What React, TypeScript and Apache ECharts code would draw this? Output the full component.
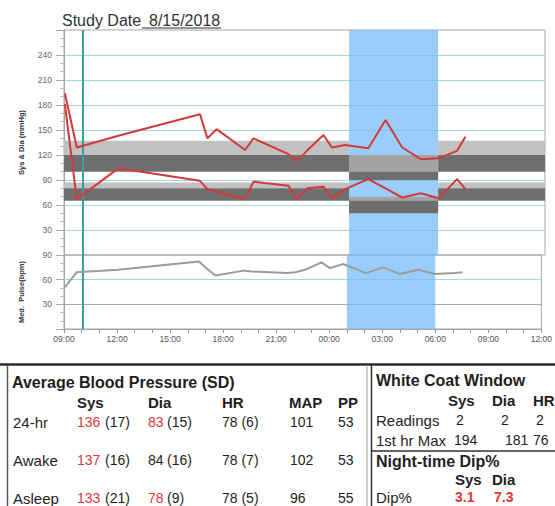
import React, { useEffect, useRef } from "react";
import * as echarts from "echarts";

// ---------- data ----------
const STUDY_LABEL = "Study Date";
const STUDY_DATE = "8/15/2018";

const X_TICK_LABELS = ["09:00", "12:00", "15:00", "18:00", "21:00", "00:00", "03:00", "06:00", "09:00", "12:00"];
const X_STEP_HOURS = 3;
const AXIS_START_HOUR = 9;

const BP_MIN = 0;
const BP_MAX = 270;
const BP_STEP = 30;
const PULSE_MIN = 0;
const PULSE_MAX = 90;
const PULSE_STEP = 30;

const READING_TIMES = ["09:03", "09:43", "12:03", "16:38", "17:03", "17:34", "19:10", "19:38", "21:36", "22:05", "22:38", "23:34", "00:02", "00:47", "02:05", "03:03", "03:59", "05:02", "06:01", "07:04", "07:32"];
const SYS = [194, 129, 143, 169, 140, 151, 126, 140, 121, 113, 125, 144, 129, 132, 128, 162, 129, 115, 116, 125, 142];
const DIA = [181, 67, 104, 89, 79, 76, 67, 88, 83, 67, 80, 82, 68, 79, 91, 80, 69, 74, 68, 91, 79];
const PULSE = [51, 69, 72, 82, 74, 65, 71, 70, 68, 69, 72, 81, 74, 79, 68, 75, 67, 72, 67, 68, 69];

const NIGHT_PERIOD = ["01:00", "06:00"];
const WHITE_COAT_END = "10:05";

// reference bands [low, high]
const AWAKE_SYS_UPPER = [120, 137];
const AWAKE_SYS_NORMAL = [100, 120];
const AWAKE_DIA_UPPER = [80, 87];
const AWAKE_DIA_NORMAL = [65, 80];
const NIGHT_SYS_UPPER = [100, 120];
const NIGHT_SYS_NORMAL = [90, 100];
const NIGHT_DIA_UPPER = [65, 70];
const NIGHT_DIA_NORMAL = [50, 65];

const PULSE_REF_GRAY = 30;
const PULSE_REF_TEAL = 60;

// table data
const BP_TITLE = "Average Blood Pressure (SD)";
const BP_HEADERS = ["Sys", "Dia", "HR", "MAP", "PP"];
const BP_ROW_LABELS = ["24-hr", "Awake", "Asleep"];
const BP_SYS = [136, 137, 133];
const BP_SYS_SD = [17, 16, 21];
const BP_SYS_HIGH = [true, true, true];
const BP_DIA = [83, 84, 78];
const BP_DIA_SD = [15, 16, 9];
const BP_DIA_HIGH = [true, false, true];
const BP_HR = [78, 78, 78];
const BP_HR_SD = [6, 7, 5];
const BP_MAP = [101, 102, 96];
const BP_PP = [53, 53, 55];

const WC_TITLE = "White Coat Window";
const WC_HEADERS = ["Sys", "Dia", "HR"];
const WC_READINGS_LABEL = "Readings";
const WC_READINGS = [2, 2, 2];
const WC_MAX_LABEL = "1st hr Max";
const WC_MAX = [194, 181, 76];
const DIP_TITLE = "Night-time Dip%";
const DIP_HEADERS = ["Sys", "Dia"];
const DIP_LABEL = "Dip%";
const DIP_VALUES = ["3.1", "7.3"];

// ---------- helpers ----------
const toHours = (t: string) => {
  const [h, m] = t.split(":").map(Number);
  return ((h - AXIS_START_HOUR + 24) % 24) + m / 60;
};
const X_MAX = (X_TICK_LABELS.length - 1) * X_STEP_HOURS;

const FONT = '"Liberation Sans", Arial, Helvetica, sans-serif';
const RED = "#e0373b";
const INK = "#1e1e1e";
const LINE_RED = "#d13a3a";
const BAND_LIGHT = "#c1c1c1";
const BAND_MID = "#a3a3a3";
const BAND_DARK = "#6e6e6e";
const BLUE = "rgba(112,184,248,0.7)";
const TEAL_GRID = "#a3d8d8";
const BORDER = "#a6a6a6";

const NUM = 14; // numeric font size in the tables
const LAB = 15; // row label font size
const HEAD = 15; // column header font size
const TITLE = 16; // section title font size

function txt(x: number, y: number, text: string, o: any = {}) {
  return {
    type: "text",
    x,
    y,
    silent: true,
    style: {
      text,
      fill: o.fill || INK,
      fontFamily: FONT,
      fontSize: o.size || NUM,
      fontWeight: o.bold ? "bold" : "normal",
      align: o.align || "left",
      verticalAlign: "middle",
    },
  };
}
function ln(x1: number, y1: number, x2: number, y2: number, stroke: string, w: number) {
  return { type: "line", silent: true, shape: { x1, y1, x2, y2 }, style: { stroke, lineWidth: w } };
}

function band(x0: number, x1: number, r: number[], color: string) {
  return [
    { xAxis: x0, yAxis: r[0], itemStyle: { color, opacity: 1 } },
    { xAxis: x1, yAxis: r[1] },
  ];
}

function buildOption() {
  const n0 = toHours(NIGHT_PERIOD[0]);
  const n1 = toHours(NIGHT_PERIOD[1]);
  const wc = toHours(WHITE_COAT_END);
  const awakeSpans = [
    [0, n0],
    [n1, X_MAX],
  ];
  const bandData: any[] = [];
  awakeSpans.forEach(([a, b]) => {
    bandData.push(band(a, b, AWAKE_SYS_UPPER, BAND_LIGHT));
    bandData.push(band(a, b, AWAKE_SYS_NORMAL, BAND_DARK));
    bandData.push(band(a, b, AWAKE_DIA_UPPER, BAND_LIGHT));
    bandData.push(band(a, b, AWAKE_DIA_NORMAL, BAND_DARK));
  });
  bandData.push(band(n0, n1, NIGHT_SYS_UPPER, BAND_MID));
  bandData.push(band(n0, n1, NIGHT_SYS_NORMAL, BAND_DARK));
  bandData.push(band(n0, n1, NIGHT_DIA_UPPER, BAND_MID));
  bandData.push(band(n0, n1, NIGHT_DIA_NORMAL, BAND_DARK));

  const pts = (vals: number[]) => READING_TIMES.map((t, i) => [toHours(t), vals[i]]);

  const blueArea = {
    silent: true,
    z: 1,
    label: { show: false },
    itemStyle: { color: BLUE, opacity: 1 },
    data: [[{ xAxis: n0 }, { xAxis: n1 }]],
  };
  const wcLine = {
    silent: true,
    z: 1.8,
    symbol: ["none", "none"],
    label: { show: false },
    lineStyle: { color: "#3d9c9e", width: 2, type: "solid" },
    data: [{ xAxis: wc }],
  };

  // table graphics
  const g: any[] = [];
  // title
  g.push(txt(62, 20.5, STUDY_LABEL, { size: 16, fill: "#333" }));
  g.push(txt(149, 20.5, STUDY_DATE, { size: 16, fill: "#333" }));
  g.push(ln(142, 28, 221, 28, "#333", 1.2));

  // table frame
  g.push(ln(0, 364.5, 555, 364.5, "#2a2a2a", 2.5));
  g.push(ln(7.5, 365, 7.5, 506, "#555", 1.5));
  g.push(ln(367, 365, 367, 506, "#9a9a9a", 1));
  g.push(ln(371.5, 365, 371.5, 506, "#333", 1.5));
  g.push(ln(371.5, 451, 555, 451, "#333", 1.5));

  // left table
  const colX = [77, 148, 222, 289, 338];
  g.push(txt(12, 382, BP_TITLE, { size: TITLE, bold: true }));
  BP_HEADERS.forEach((h, i) => g.push(txt(colX[i], 402, h, { size: HEAD, bold: true })));
  const rowY = [422, 460, 498];
  BP_ROW_LABELS.forEach((lab, i) => {
    const y = rowY[i];
    g.push(txt(13, y, lab, { size: LAB }));
    g.push(txt(77, y, String(BP_SYS[i]), { fill: BP_SYS_HIGH[i] ? RED : INK }));
    g.push(txt(105, y, `(${BP_SYS_SD[i]})`));
    g.push(txt(148, y, String(BP_DIA[i]), { fill: BP_DIA_HIGH[i] ? RED : INK }));
    g.push(txt(167, y, `(${BP_DIA_SD[i]})`));
    g.push(txt(222, y, `${BP_HR[i]} (${BP_HR_SD[i]})`));
    g.push(txt(290, y, String(BP_MAP[i])));
    g.push(txt(338, y, String(BP_PP[i])));
  });

  // right table
  g.push(txt(376, 380, WC_TITLE, { size: TITLE, bold: true }));
  const wcHeadX = [448, 492, 533];
  WC_HEADERS.forEach((h, i) => g.push(txt(wcHeadX[i], 400, h, { size: HEAD, bold: true })));
  g.push(txt(376, 420, WC_READINGS_LABEL, { size: LAB }));
  const wcReadX = [456, 501, 536];
  WC_READINGS.forEach((v, i) => g.push(txt(wcReadX[i], 420, String(v))));
  g.push(txt(376, 440, WC_MAX_LABEL, { size: LAB }));
  const wcMaxX = [454, 505, 533];
  WC_MAX.forEach((v, i) => g.push(txt(wcMaxX[i], 440, String(v))));
  g.push(txt(376, 461, DIP_TITLE, { size: TITLE, bold: true }));
  const dipX = [455, 492];
  DIP_HEADERS.forEach((h, i) => g.push(txt(dipX[i], 479, h, { size: HEAD, bold: true })));
  g.push(txt(376, 497, DIP_LABEL, { size: LAB }));
  const dipValX = [455, 494];
  DIP_VALUES.forEach((v, i) => g.push(txt(dipValX[i], 497, v, { fill: RED, bold: true })));

  const yLabel = (hide: number[]) => (v: number) => (hide.includes(v) ? "" : String(v));

  return {
    animation: false,
    backgroundColor: "#ffffff",
    textStyle: { fontFamily: FONT },
    grid: [
      { left: 64, top: 30, width: 481, height: 225, show: true, borderColor: BORDER, borderWidth: 1, backgroundColor: "transparent" },
      { left: 64, top: 255, width: 481, height: 74, show: true, borderColor: BORDER, borderWidth: 1, backgroundColor: "transparent" },
    ],
    xAxis: [
      {
        type: "value",
        gridIndex: 0,
        min: 0,
        max: X_MAX,
        interval: X_STEP_HOURS,
        axisLabel: { show: false },
        axisTick: { show: false },
        axisLine: { show: false },
        splitLine: { show: false },
      },
      {
        type: "value",
        gridIndex: 1,
        min: 0,
        max: X_MAX,
        interval: X_STEP_HOURS,
        axisLine: { show: true, lineStyle: { color: BORDER } },
        axisTick: { show: true, length: 4, lineStyle: { color: "#999" } },
        minorTick: { show: true, splitNumber: 3, length: 4, lineStyle: { color: "#999" } },
        axisLabel: {
          fontSize: 8.5,
          color: "#555",
          margin: 5,
          formatter: (v: number) => X_TICK_LABELS[Math.round(v / X_STEP_HOURS)] ?? "",
        },
        splitLine: { show: false },
      },
    ],
    yAxis: [
      {
        type: "value",
        gridIndex: 0,
        min: BP_MIN,
        max: BP_MAX,
        interval: BP_STEP,
        name: "Sys & Dia (mmHg)",
        nameLocation: "middle",
        nameGap: 39,
        nameTextStyle: { fontSize: 7.5, fontWeight: "bold", color: "#333" },
        axisLine: { show: true, lineStyle: { color: BORDER } },
        axisTick: { show: true, length: 8, lineStyle: { color: "#aaa" } },
        minorTick: { show: true, splitNumber: 3, length: 4, lineStyle: { color: "#bbb" } },
        axisLabel: { fontSize: 8.5, color: "#666", margin: 12, formatter: yLabel([BP_MIN, BP_MAX]) },
        splitLine: { show: true, showMinLine: false, showMaxLine: false, lineStyle: { color: TEAL_GRID, width: 1 } },
      },
      {
        type: "value",
        gridIndex: 1,
        min: PULSE_MIN,
        max: PULSE_MAX,
        interval: PULSE_STEP,
        name: "Med.  Pulse(bpm)",
        nameLocation: "middle",
        nameGap: 39,
        nameTextStyle: { fontSize: 7.5, fontWeight: "bold", color: "#333" },
        axisLine: { show: true, lineStyle: { color: BORDER } },
        axisTick: { show: true, length: 8, lineStyle: { color: "#aaa" } },
        minorTick: { show: true, splitNumber: 3, length: 4, lineStyle: { color: "#bbb" } },
        axisLabel: { fontSize: 8.5, color: "#666", margin: 12, formatter: yLabel([PULSE_MIN]) },
        splitLine: { show: false },
      },
    ],
    series: [
      {
        name: "pulseRefs",
        type: "line",
        xAxisIndex: 1,
        yAxisIndex: 1,
        data: [],
        markLine: {
          silent: true,
          z: 0.5,
          symbol: ["none", "none"],
          label: { show: false },
          data: [
            { yAxis: PULSE_REF_GRAY, lineStyle: { color: "#a8a8a8", width: 1.2, type: "solid" } },
            { yAxis: PULSE_REF_TEAL, lineStyle: { color: TEAL_GRID, width: 1, type: "solid" } },
          ],
        },
      },
      { name: "nightUpper", type: "line", xAxisIndex: 0, yAxisIndex: 0, data: [], markArea: blueArea },
      { name: "nightLower", type: "line", xAxisIndex: 1, yAxisIndex: 1, data: [], markArea: blueArea, markLine: wcLine },
      {
        name: "bands",
        type: "line",
        xAxisIndex: 0,
        yAxisIndex: 0,
        data: [],
        markArea: { silent: true, z: 1.5, label: { show: false }, data: bandData },
        markLine: wcLine,
      },
      {
        name: "Sys",
        type: "line",
        xAxisIndex: 0,
        yAxisIndex: 0,
        z: 3,
        symbol: "none",
        lineStyle: { color: LINE_RED, width: 2 },
        data: pts(SYS),
      },
      {
        name: "Dia",
        type: "line",
        xAxisIndex: 0,
        yAxisIndex: 0,
        z: 3,
        symbol: "none",
        lineStyle: { color: LINE_RED, width: 2 },
        data: pts(DIA),
      },
      {
        name: "Pulse",
        type: "line",
        xAxisIndex: 1,
        yAxisIndex: 1,
        z: 3,
        symbol: "none",
        lineStyle: { color: "#9b9b9b", width: 2 },
        data: pts(PULSE),
      },
    ],
    graphic: { elements: g },
  };
}

export default function App() {
  const ref = useRef<HTMLDivElement>(null);
  useEffect(() => {
    const chart = echarts.init(ref.current!, null, { renderer: "svg" });
    chart.setOption(buildOption() as any);
    return () => chart.dispose();
  }, []);
  return (
    <div
      ref={ref}
      style={{ position: "absolute", left: 0, top: 0, width: 555, height: 506, background: "#fff" }}
    />
  );
}
